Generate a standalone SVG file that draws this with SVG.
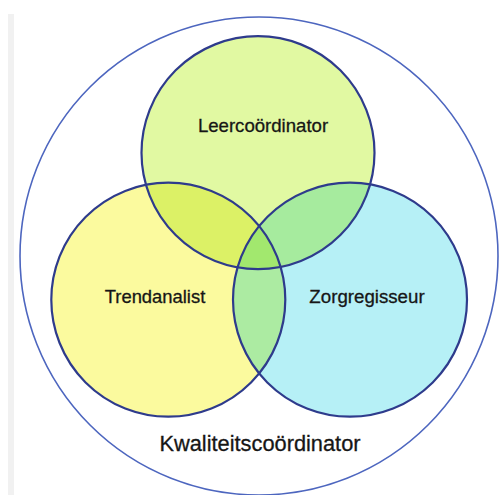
<svg xmlns="http://www.w3.org/2000/svg" width="503" height="495" viewBox="0 0 503 495">
<style>
.lbl{font-family:"Liberation Sans",Arial,sans-serif;fill:#161616;stroke:#161616;stroke-width:0.3;text-anchor:middle}
.ring{fill:none;stroke:#2e3b8c;stroke-width:2.2}
</style>
<defs>
<clipPath id="cTop"><circle cx="258" cy="152.7" r="116.5"/></clipPath>
<clipPath id="cLeft"><circle cx="168.3" cy="299.7" r="117"/></clipPath>
<clipPath id="cRight"><circle cx="350" cy="299.7" r="117"/></clipPath>
</defs>
<rect x="0" y="0" width="503" height="495" fill="#ffffff"/>
<rect x="8" y="14" width="6" height="481" fill="#f1f1f1"/>
<g id="outer">
<circle cx="259" cy="256" r="239" fill="none" stroke="#4d66bf" stroke-width="1.6"/>
<text class="lbl" x="260" y="451" font-size="21.8">Kwaliteitscoördinator</text>
</g>
<g id="fills">
<circle cx="258" cy="152.7" r="116.5" fill="#e1f9a2"/>
<circle cx="168.3" cy="299.7" r="117" fill="#fbfa9e"/>
<circle cx="350" cy="299.7" r="117" fill="#b6f0f6"/>
<g clip-path="url(#cTop)"><circle cx="168.3" cy="299.7" r="117" fill="#dcf166"/></g>
<g clip-path="url(#cTop)"><circle cx="350" cy="299.7" r="117" fill="#a6eb9e"/></g>
<g clip-path="url(#cLeft)"><circle cx="350" cy="299.7" r="117" fill="#aceba2"/></g>
<g clip-path="url(#cTop)"><g clip-path="url(#cLeft)"><circle cx="350" cy="299.7" r="117" fill="#a2e86e"/></g></g>
</g>
<g id="trendanalist">
<circle class="ring" cx="168.3" cy="299.7" r="117"/>
<text class="lbl" x="155" y="303" font-size="18.4">Trendanalist</text>
</g>
<g id="zorgregisseur">
<circle class="ring" cx="350" cy="299.7" r="117"/>
<text class="lbl" x="367" y="303" font-size="18.7">Zorgregisseur</text>
</g>
<g id="leercoordinator">
<circle class="ring" cx="258" cy="152.7" r="116.5"/>
<text class="lbl" x="263" y="131.5" font-size="18.6">Leercoördinator</text>
</g>
<g id="connectors"></g>
</svg>
